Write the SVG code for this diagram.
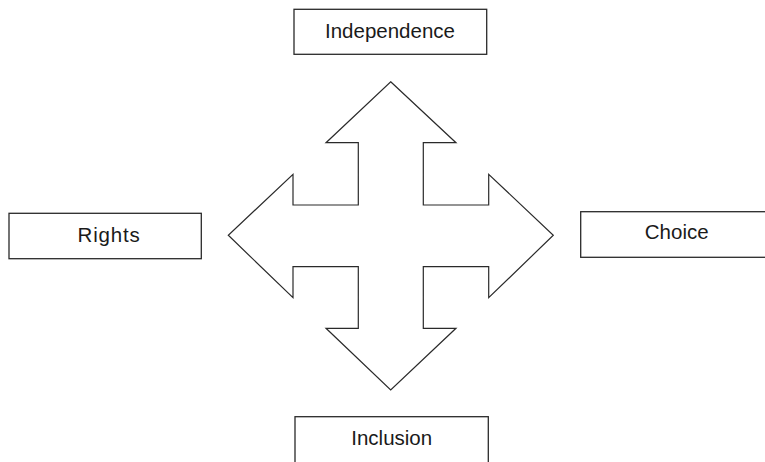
<svg xmlns="http://www.w3.org/2000/svg" width="765" height="462" viewBox="0 0 765 462">
  <style>
    .box { fill: #ffffff; stroke: #2a2a2a; stroke-width: 1.3; }
    .label { font-family: "Liberation Sans", Arial, sans-serif; font-size: 20.5px; fill: #1a1a1a; text-anchor: middle; }
    .arrow { fill: #ffffff; stroke: #2a2a2a; stroke-width: 1.2; stroke-linejoin: miter; }
  </style>
  <rect width="765" height="462" fill="#ffffff"/>

  <!-- four-way arrow in the centre -->
  <g id="connectors">
    <path class="arrow" d="M390.7,81.7 L456,142.7 L423.3,142.7 L423.3,205 L488.7,205 L488.7,174.3 L553.3,235.3 L488.7,297.7 L488.7,266.7 L423.3,266.7 L423.3,328.3 L456,328.3 L390.7,390 L326,328.3 L358.3,328.3 L358.3,266.7 L293,266.7 L293,297.7 L228.3,235.3 L293,174.3 L293,205 L358.3,205 L358.3,142.7 L326,142.7 Z"/>
  </g>

  <g id="independence">
    <rect class="box" x="294" y="9.3" width="192.7" height="45"/>
    <text class="label" x="390" y="37.7">Independence</text>
  </g>

  <g id="rights">
    <rect class="box" x="9" y="213.3" width="192.3" height="45.4"/>
    <text class="label" x="109" y="241.7" letter-spacing="0.8">Rights</text>
  </g>

  <g id="choice">
    <rect class="box" x="580.7" y="211.7" width="190" height="45.6"/>
    <text class="label" x="676.7" y="239.3">Choice</text>
  </g>

  <g id="inclusion">
    <rect class="box" x="295" y="416.7" width="193.3" height="60"/>
    <text class="label" x="391.7" y="444.7">Inclusion</text>
  </g>
</svg>
